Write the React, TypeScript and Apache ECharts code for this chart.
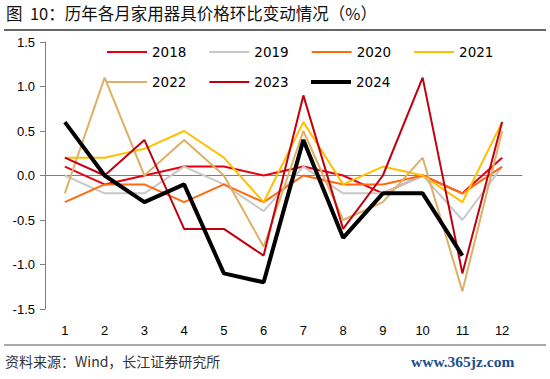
import React, { useEffect, useRef } from "react";
import * as echarts from "echarts";

const months = ["1", "2", "3", "4", "5", "6", "7", "8", "9", "10", "11", "12"];
const years = ["2018", "2019", "2020", "2021", "2022", "2023", "2024"];
const v2018 = [0.1, -0.1, 0.0, 0.1, 0.1, 0.0, 0.1, 0.0, -0.2, 0.0, -0.2, 0.2];
const v2019 = [0.0, -0.2, -0.2, 0.1, -0.1, -0.4, 0.1, -0.2, -0.2, 0.0, -0.5, 0.1];
const v2020 = [-0.3, -0.1, -0.1, -0.3, -0.1, -0.3, 0.0, -0.1, -0.1, 0.0, -0.2, 0.1];
const v2021 = [0.2, 0.2, 0.3, 0.5, 0.2, -0.3, 0.6, -0.1, 0.1, 0.0, -0.3, 0.6];
const v2022 = [-0.2, 1.1, 0.0, 0.4, 0.0, -0.8, 0.5, -0.5, -0.3, 0.2, -1.3, 0.5];
const v2023 = [0.2, 0.0, 0.4, -0.6, -0.6, -0.9, 0.9, -0.6, 0.0, 1.1, -1.1, 0.6];
const v2024 = [0.6, 0.0, -0.3, -0.1, -1.1, -1.2, 0.4, -0.7, -0.2, -0.2, -0.9];
const yTicks = { min: -1.5, max: 1.5, interval: 0.5 };

const seriesValues = [v2018, v2019, v2020, v2021, v2022, v2023, v2024];
const colors = ["#E60012", "#C8C8C8", "#FF6A10", "#FFC000", "#DDB066", "#C0000F", "#000000"];
const widths = [2, 2, 2, 2, 2, 2, 4];

export default function App() {
  const ref = useRef<HTMLDivElement>(null);
  useEffect(() => {
    if (!ref.current) return;
    const chart = echarts.init(ref.current, undefined, { renderer: "svg" });
    const legendCommon = {
      icon: "rect",
      itemWidth: 40,
      itemHeight: 2,
      itemGap: 23,
      textStyle: { fontSize: 13.5, color: "#000", fontFamily: "DejaVu Sans", width: 34 },
    };
    chart.setOption({
      animation: false,
      backgroundColor: "#fff",
      grid: { left: 45, right: 28, top: 42, bottom: 70, outerBoundsMode: "none", containLabel: false },
      legend: [
        { ...legendCommon, left: 102, top: 40, data: years.slice(0, 4) },
        { ...legendCommon, left: 102, top: 70, data: years.slice(4, 6) },
        { ...legendCommon, left: 306, top: 70, itemHeight: 4, data: years.slice(6) },
      ],
      xAxis: {
        type: "category",
        data: months,
        boundaryGap: true,
        axisLine: { onZero: true, lineStyle: { color: "#7f7f7f", width: 1 } },
        axisTick: { inside: true, length: 4, lineStyle: { color: "#7f7f7f" } },
        axisLabel: { margin: 15, fontSize: 13, color: "#000", fontFamily: "Liberation Sans" },
        splitLine: { show: false },
      },
      yAxis: {
        type: "value",
        min: yTicks.min,
        max: yTicks.max,
        interval: yTicks.interval,
        axisLine: { show: true, lineStyle: { color: "#7f7f7f", width: 1 } },
        axisTick: { show: true, inside: false, length: 5, lineStyle: { color: "#7f7f7f" } },
        axisLabel: {
          margin: 10,
          fontSize: 13,
          color: "#000",
          fontFamily: "Liberation Sans",
          formatter: (v: number) => v.toFixed(1),
        },
        splitLine: { show: false },
      },
      series: years.map((y, i) => ({
        name: y,
        type: "line",
        data: seriesValues[i],
        symbol: "none",
        showSymbol: false,
        color: colors[i],
        lineStyle: { color: colors[i], width: widths[i] },
        z: 2 + i,
      })),
      graphic: [
        {
          type: "text",
          left: 6,
          top: 5,
          style: {
            text: "图  10：历年各月家用器具价格环比变动情况（%）",
            fontSize: 16.5,
            fontFamily: "Noto Sans CJK SC",
            fill: "#111",
          },
        },
        {
          type: "line",
          shape: { x1: 4, y1: 30, x2: 546, y2: 30 },
          style: { stroke: "#333", lineWidth: 1.5 },
        },
        {
          type: "line",
          shape: { x1: 4, y1: 345, x2: 546, y2: 345 },
          style: { stroke: "#555", lineWidth: 1 },
        },
        {
          type: "text",
          left: 5,
          top: 354,
          style: {
            text: "资料来源：Wind，长江证券研究所",
            fontSize: 14,
            fontFamily: "Noto Sans CJK SC",
            fill: "#333",
          },
        },
        {
          type: "text",
          left: 411,
          top: 353,
          style: {
            text: "www.365jz.com",
            fontSize: 15.5,
            fontWeight: "bold",
            fontFamily: "Liberation Serif",
            fill: "#1F4E8C",
          },
        },
      ],
    });
    return () => chart.dispose();
  }, []);
  return (
    <div
      ref={ref}
      style={{ position: "fixed", left: 0, top: 0, width: 550, height: 379 }}
    />
  );
}
